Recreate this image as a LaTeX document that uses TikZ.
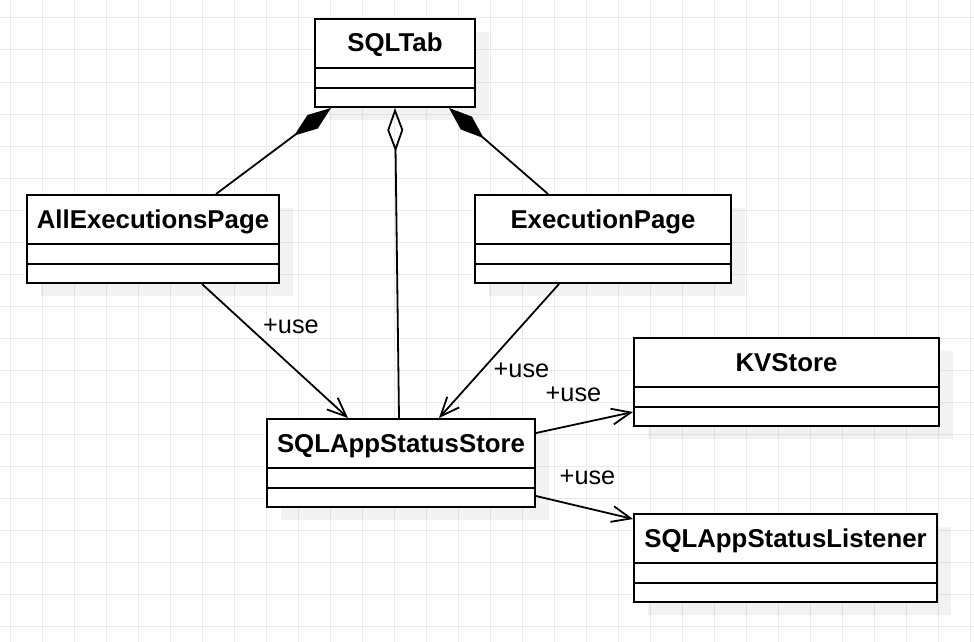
\documentclass[tikz,border=0pt]{standalone}
\usepackage{fontspec}
\setmainfont{Liberation Sans}
\usetikzlibrary{arrows.meta, shadows}

\begin{document}
\begin{tikzpicture}[x=1pt, y=-1pt,
    gridline/.style={draw=black!8, line width=1pt},
    classbox/.style={draw, line width=2pt, fill=white, inner sep=0pt,
      anchor=north west, minimum height=88pt,
      drop shadow={shadow xshift=14pt, shadow yshift=-13pt, draw=none, fill=black, opacity=0.05}},
    classline/.style={line width=2pt},
    classtitle/.style={anchor=base, inner sep=0pt,
      font=\fontsize{25.8}{30}\selectfont\bfseries},
    uselabel/.style={anchor=base, inner sep=0pt,
      font=\fontsize{25.3}{30}\selectfont},
    comp/.style={line width=1.8pt, -{Diamond[length=46pt, width=17pt]}},
    aggr/.style={line width=1.8pt, -{Diamond[open, length=44pt, width=16pt]}},
    use/.style={line width=1.8pt, -{Straight Barb[length=19pt, width=16pt]}}]

          \useasboundingbox (0,0) rectangle (974,642);

          % background grid
          \foreach \gx in {10,42,...,970} \draw[gridline] (\gx,0) -- (\gx,642);
          \foreach \gy in {18,50,...,626} \draw[gridline] (0,\gy) -- (974,\gy);

          % classes
          \node[classbox, minimum width=160pt] (sqltab)   at (314, 18) {};
          \node[classbox, minimum width=252pt] (allexec)  at (26, 194) {};
          \node[classbox, minimum width=256pt] (execpage) at (474,194) {};
          \node[classbox, minimum width=268pt] (store)    at (266,418) {};
          \node[classbox, minimum width=305pt] (kvstore)  at (633,337) {};
          \node[classbox, minimum width=303pt] (listener) at (633,513) {};

          \draw[classline] ([yshift=-50pt]sqltab.north west) -- ([yshift=-50pt]sqltab.north east);
          \draw[classline] ([yshift=-70pt]sqltab.north west) -- ([yshift=-70pt]sqltab.north east);
          \draw[classline] ([yshift=-50pt]allexec.north west) -- ([yshift=-50pt]allexec.north east);
          \draw[classline] ([yshift=-70pt]allexec.north west) -- ([yshift=-70pt]allexec.north east);
          \draw[classline] ([yshift=-50pt]execpage.north west) -- ([yshift=-50pt]execpage.north east);
          \draw[classline] ([yshift=-70pt]execpage.north west) -- ([yshift=-70pt]execpage.north east);
          \draw[classline] ([yshift=-50pt]store.north west) -- ([yshift=-50pt]store.north east);
          \draw[classline] ([yshift=-70pt]store.north west) -- ([yshift=-70pt]store.north east);
          \draw[classline] ([yshift=-50pt]kvstore.north west) -- ([yshift=-50pt]kvstore.north east);
          \draw[classline] ([yshift=-70pt]kvstore.north west) -- ([yshift=-70pt]kvstore.north east);
          \draw[classline] ([yshift=-50pt]listener.north west) -- ([yshift=-50pt]listener.north east);
          \draw[classline] ([yshift=-70pt]listener.north west) -- ([yshift=-70pt]listener.north east);

          \node[classtitle] (sqltab-name)   at ([yshift=-34pt]sqltab.north)   {SQLTab};
          \node[classtitle] (allexec-name)  at ([yshift=-34pt]allexec.north)  {AllExecutionsPage};
          \node[classtitle] (execpage-name) at ([yshift=-34pt]execpage.north) {ExecutionPage};
          \node[classtitle] (store-name)    at ([yshift=-34pt]store.north)    {SQLAppStatusStore};
          \node[classtitle] (kvstore-name)  at ([yshift=-34pt]kvstore.north)  {KVStore};
          \node[classtitle] (listener-name) at ([yshift=-34pt]listener.north) {SQLAppStatusListener};

          % relations
          \draw[comp] ([xshift=190pt]allexec.north west) -- ([xshift=17pt]sqltab.south west);
          \draw[comp] ([xshift=74pt]execpage.north west) -- ([xshift=-27pt]sqltab.south east);
          \draw[aggr] ([xshift=-2pt]store.north) -- (sqltab.south);

          \draw[use] ([xshift=176pt]allexec.south west) -- ([xshift=82pt]store.north west);
          \draw[use] ([xshift=85pt]execpage.south west) -- ([xshift=173pt]store.north west);
          \draw[use] ([yshift=-15pt]store.north east) -- ([yshift=-75pt]kvstore.north west);
          \draw[use] ([yshift=-78pt]store.north east) -- ([yshift=-6pt]listener.north west);

          \node[uselabel] (use-a) at (291,333)   {+use};
          \node[uselabel] (use-b) at (521.5,377) {+use};
          \node[uselabel] (use-c) at (573.5,401) {+use};
          \node[uselabel] (use-d) at (587.5,484) {+use};
        \end{tikzpicture}
\end{document}
